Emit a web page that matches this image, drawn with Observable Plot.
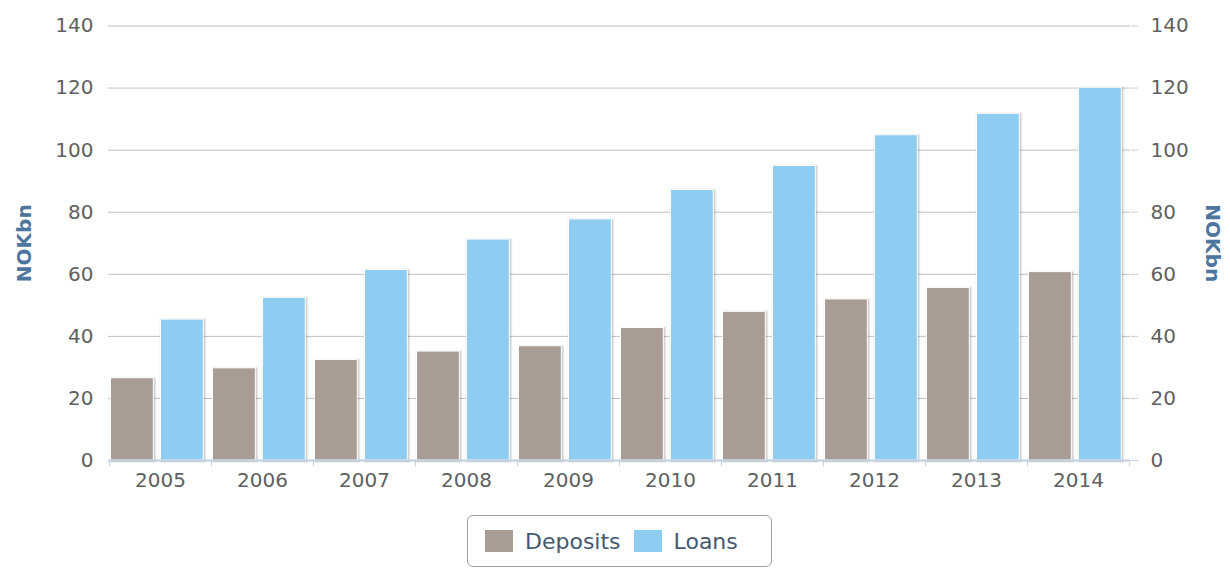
<!DOCTYPE html>
<html>
<head>
<meta charset="utf-8">
<script src="https://cdn.jsdelivr.net/npm/d3@7"></script>
<script src="https://cdn.jsdelivr.net/npm/@observablehq/plot@0.6"></script>
<style>
  html, body { margin: 0; padding: 0; background: #fff; }
  body { width: 1230px; height: 570px; position: relative; overflow: hidden; font-family: "DejaVu Sans", sans-serif; }
  #legend {
    position: absolute; left: 467px; top: 515px; width: 305px; height: 52px;
    border: 1px solid #a0a0a0; border-radius: 6px; box-sizing: border-box;
    display: flex; align-items: center; justify-content: flex-start; padding-left: 17px;
    font-size: 22px; color: #44596e;
  }
  #legend .item { display: flex; align-items: center; margin-right: 13px; }
  #legend .sw { width: 28px; height: 22px; margin-right: 12px; }
</style>
</head>
<body>
<div id="chart"></div>
<div id="legend"></div>
<script>
const years = ["2005", "2006", "2007", "2008", "2009", "2010", "2011", "2012", "2013", "2014"];
const deposits = [26.5, 29.7, 32.4, 35.1, 36.8, 42.7, 47.9, 51.9, 55.6, 60.7];
const loans = [45.4, 52.4, 61.4, 71.2, 77.7, 87.2, 94.9, 104.8, 111.7, 120.1];
const yTicks = [0, 20, 40, 60, 80, 100, 120, 140];
const seriesNames = ["Deposits", "Loans"];
const seriesColors = ["#a89c94", "#8ecdf1"];
const axisTitle = "NOKbn";

const rows = years.map((year, i) => ({year, deposits: deposits[i], loans: loans[i]}));

const W = 1230, H = 502;
const mL = 108, mR = 100, mT = 25.5, mB = H - 460;
const bw = (W - mL - mR) / years.length;

const shadow = (key, inL, inR) => [
  Plot.barY(rows, {x: "year", y: key, insetLeft: inL, insetRight: inR, dx: 1, dy: 1, fill: "none", stroke: "#000", strokeOpacity: 0.06, strokeWidth: 4}),
  Plot.barY(rows, {x: "year", y: key, insetLeft: inL, insetRight: inR, dx: 1, dy: 1, fill: "none", stroke: "#000", strokeOpacity: 0.12, strokeWidth: 2})
];

const depIn = [1.5, bw - 44.5];
const loanIn = [51.5, bw - 94.5];

const chart = Plot.plot({
  width: W, height: H,
  marginLeft: mL, marginRight: mR, marginTop: mT, marginBottom: mB,
  style: {fontFamily: "DejaVu Sans, sans-serif", fontSize: "20px", color: "#606060", background: "#fff"},
  x: {domain: years, padding: 0, label: null},
  y: {domain: [0, 140], label: null},
  marks: [
    Plot.gridY(yTicks, {stroke: "#c0c0c0", strokeOpacity: 1, strokeWidth: 1}),
    Plot.axisY(yTicks, {anchor: "left", tickSize: 0, tickPadding: 15, label: null}),
    Plot.axisY(yTicks, {anchor: "right", tickSize: 7, tickPadding: 13, label: null, stroke: "#c0d0e0"}),
    Plot.axisX({tickSize: 0, tickPadding: 12, label: null}),
    ...shadow("deposits", ...depIn),
    ...shadow("loans", ...loanIn),
    Plot.barY(rows, {x: "year", y: "deposits", insetLeft: depIn[0], insetRight: depIn[1], fill: seriesColors[0], stroke: "#fff", strokeWidth: 1}),
    Plot.barY(rows, {x: "year", y: "loans", insetLeft: loanIn[0], insetRight: loanIn[1], fill: seriesColors[1], stroke: "#fff", strokeWidth: 1}),
    Plot.ruleY([0], {stroke: "#c0d0e0", strokeWidth: 2}),
    Plot.ruleX(years, {x: d => d, y1: 0, y2: -2, dx: -bw / 2, stroke: "#c0d0e0", strokeWidth: 1}),
    Plot.ruleX(years.slice(-1), {x: d => d, y1: 0, y2: -2, dx: bw / 2, stroke: "#c0d0e0", strokeWidth: 1}),
    Plot.text([axisTitle], {frameAnchor: "left", textAnchor: "middle", rotate: -90, dx: -84, fill: "#4d759e", fontWeight: "bold", fontSize: 20}),
    Plot.text([axisTitle], {frameAnchor: "right", textAnchor: "middle", rotate: 90, dx: 82, fill: "#4d759e", fontWeight: "bold", fontSize: 20})
  ]
});
document.getElementById("chart").appendChild(chart);

const legend = document.getElementById("legend");
seriesNames.forEach((name, i) => {
  const item = document.createElement("div");
  item.className = "item";
  const sw = document.createElement("span");
  sw.className = "sw";
  sw.style.background = seriesColors[i];
  const label = document.createElement("span");
  label.textContent = name;
  item.appendChild(sw);
  item.appendChild(label);
  legend.appendChild(item);
});
</script>
</body>
</html>
